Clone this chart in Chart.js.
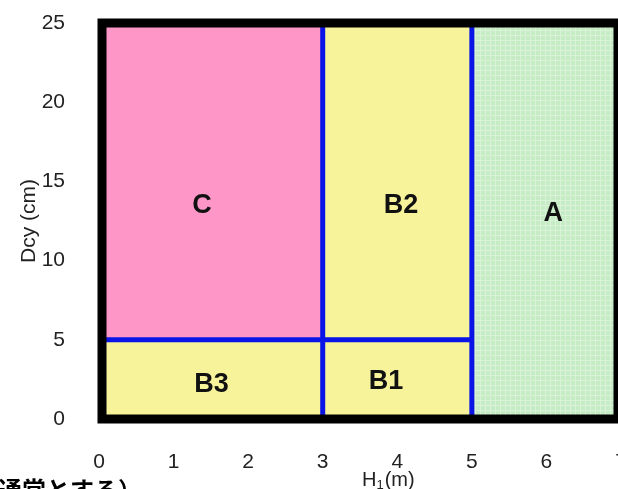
<!DOCTYPE html>
<html>
<head>
<meta charset="utf-8">
<script src="https://cdn.jsdelivr.net/npm/chart.js@4"></script>
<style>
  body { margin: 0; background: #fff; overflow: hidden; }
  #wrap { width: 640px; height: 489px; }
</style>
</head>
<body>
<div id="wrap"><canvas id="zones" width="640" height="489"></canvas></div>
<script>
// ----------------- DATA -----------------
const regionNames = ['C', 'B2', 'A', 'B3', 'B1'];
const regionX0 = [0, 3, 5, 0, 3];
const regionX1 = [3, 5, 7, 3, 5];
const regionY0 = [5, 5, 0, 0, 0];
const regionY1 = [25, 25, 25, 5, 5];
const regionLabelX = [1.38, 4.05, 6.09, 1.51, 3.85];
const regionLabelY = [13.45, 13.5, 13.0, 2.2, 2.34];

// blue boundary lines
const boundaryX = [[3, 3], [5, 5], [0, 5]];
const boundaryY = [[0, 25], [0, 25], [5, 5]];

const xTicks = [0, 1, 2, 3, 4, 5, 6, 7];
const yTicks = [0, 5, 10, 15, 20, 25];

// ----------------- STYLE -----------------
const FONT = '"Liberation Sans", Arial, sans-serif';

function greenPattern() {
  const c = document.createElement('canvas');
  c.width = 5; c.height = 5;
  const g = c.getContext('2d');
  g.fillStyle = '#c6ecc5';
  g.fillRect(0, 0, 5, 5);
  g.fillStyle = '#daf3d8';
  g.fillRect(0, 0, 1, 5);
  g.fillRect(0, 0, 5, 1);
  return g.createPattern(c, 'repeat');
}

const regionColors = {
  C: '#fe97c8',
  B2: '#f6f39b',
  B3: '#f6f39b',
  B1: '#f6f39b',
  A: greenPattern()
};

const datasets = [];
regionNames.forEach((name, i) => {
  datasets.push({
    label: name,
    order: 2,
    data: [{ x: regionX0[i], y: regionY1[i] }, { x: regionX1[i], y: regionY1[i] }],
    borderWidth: 0,
    pointRadius: 0,
    backgroundColor: regionColors[name],
    fill: { value: regionY0[i] }
  });
});
boundaryX.forEach((xs, i) => {
  datasets.push({
    label: 'line' + i,
    order: 1,
    data: xs.map((x, k) => ({ x, y: boundaryY[i][k] })),
    borderColor: '#0a14e6',
    borderWidth: 5,
    pointRadius: 0,
    fill: false
  });
});

// frame, region names and extra text
const decorPlugin = {
  id: 'decor',
  afterDatasetsDraw(chart) {
    const { ctx, chartArea: a, scales: { x, y } } = chart;
    ctx.save();
    ctx.strokeStyle = '#000';
    ctx.lineWidth = 9;
    ctx.strokeRect(a.left + 3, a.top, a.right - a.left - 6, a.bottom - a.top);

    ctx.fillStyle = '#111';
    ctx.font = 'bold 27px ' + FONT;
    ctx.textAlign = 'center';
    ctx.textBaseline = 'middle';
    regionNames.forEach((name, i) => {
      ctx.fillText(name, x.getPixelForValue(regionLabelX[i]), y.getPixelForValue(regionLabelY[i]));
    });

    // x axis title H1(m)
    ctx.fillStyle = '#222';
    ctx.textAlign = 'left';
    ctx.textBaseline = 'alphabetic';
    ctx.font = '20px ' + FONT;
    const tx = 362, ty = 486;
    ctx.fillText('H', tx, ty);
    const hw = ctx.measureText('H').width;
    ctx.font = '13px ' + FONT;
    ctx.fillText('1', tx + hw, ty + 3);
    const sw = ctx.measureText('1').width;
    ctx.font = '20px ' + FONT;
    ctx.fillText('(m)', tx + hw + sw + 1, ty);

    // cut-off caption at the bottom
    ctx.fillStyle = '#000';
    ctx.font = 'bold 24px "Noto Sans CJK JP", sans-serif';
    ctx.textBaseline = 'top';
    ctx.fillText('通常とする）', -2, 478);
    ctx.restore();
  }
};

new Chart(document.getElementById('zones'), {
  type: 'line',
  data: { datasets },
  plugins: [decorPlugin],
  options: {
    responsive: false,
    animation: false,
    layout: { padding: { top: 23, right: 19, left: 0, bottom: 0 } },
    plugins: { legend: { display: false }, tooltip: { enabled: false } },
    scales: {
      x: {
        type: 'linear',
        min: 0, max: 7,
        afterBuildTicks: s => { s.ticks = xTicks.map(v => ({ value: v })); },
        afterFit: s => { s.height = 70; s.paddingLeft = 0; s.paddingRight = 0; },
        grid: { display: false },
        border: { display: false },
        ticks: { padding: 23, color: '#222', font: { family: FONT, size: 21 }, maxRotation: 0 }
      },
      y: {
        type: 'linear',
        min: 0, max: 25,
        afterBuildTicks: s => { s.ticks = yTicks.map(v => ({ value: v })); },
        afterFit: s => { s.width = 99; s.paddingTop = 0; s.paddingBottom = 0; },
        grid: { display: false },
        border: { display: false },
        ticks: { padding: 26, color: '#222', font: { family: FONT, size: 21 } },
        title: {
          display: true,
          text: 'Dcy (cm)',
          color: '#222',
          font: { family: FONT, size: 21 },
          padding: { top: 17, bottom: 0 }
        }
      }
    }
  }
});
</script>
</body>
</html>
